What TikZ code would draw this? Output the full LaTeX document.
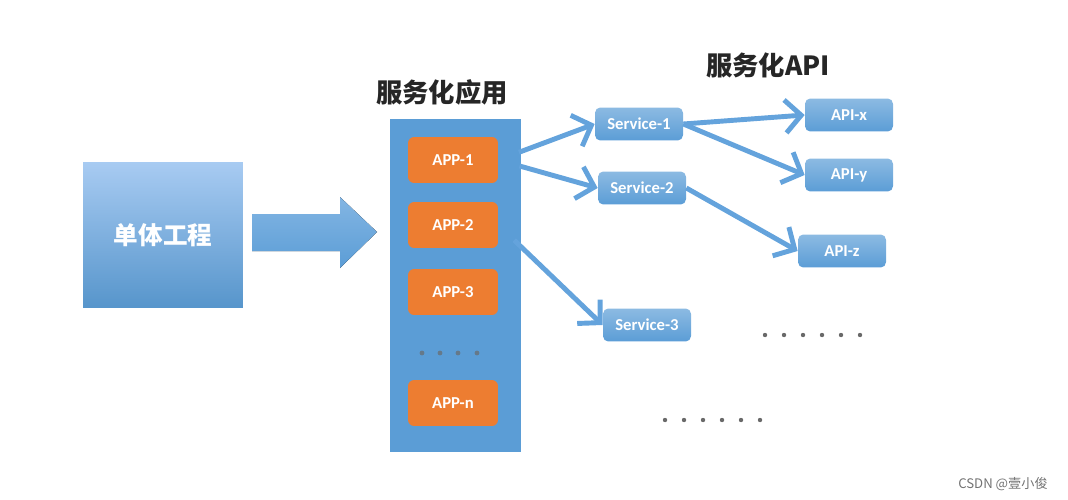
\documentclass[tikz,border=0pt]{standalone}
\usepackage{fontspec}
\setmainfont{Carlito}
\newfontfamily\cjk{Noto Sans CJK SC}
\usetikzlibrary{arrows.meta}
\definecolor{boxblue}{RGB}{91,157,214}
\definecolor{lightblue}{RGB}{168,203,242}
\definecolor{linkblue}{RGB}{100,163,220}
\definecolor{apporange}{RGB}{237,125,49}
\definecolor{dotgray}{RGB}{105,105,105}

\begin{document}
\begin{tikzpicture}[x=0.02cm,y=-0.02cm,
    appbox/.style={fill=apporange,rounded corners=3.5pt,inner sep=0pt,minimum width=1.8cm,minimum height=0.92cm,text=white,font=\bfseries\fontsize{9.5}{11}\selectfont},
    svcbox/.style={top color=boxblue!70!white,bottom color=boxblue,rounded corners=3pt,inner sep=0pt,minimum width=1.76cm,minimum height=0.66cm,text=white,font=\bfseries\fontsize{9.5}{11}\selectfont},
    link/.style={draw=linkblue,line width=2.8pt,-{Straight Barb[length=0.32cm,width=0.66cm]}}]
\useasboundingbox (0,0) rectangle (1068,500);
% monolith and the big arrow
\node[top color=lightblue,bottom color=boxblue!95!black,inner sep=0pt,minimum width=3.2cm,minimum height=2.92cm,text=white,font=\cjk\bfseries\fontsize{14}{16}\selectfont] (mono) at (163,235) {单体工程};
\fill[top color=linkblue!80!white,bottom color=boxblue] (252,214) -- (340,214) -- (340,197) -- (377,232) -- (340,268) -- (340,251) -- (252,251) -- cycle;
% apps
\node[font=\cjk\bfseries\fontsize{15}{17}\selectfont,text=black!85] (apptitle) at (442,92) {服务化应用};
\fill[boxblue] (390,119) rectangle (521,452);
\foreach \name/\y/\txt in {app1/160/APP-1, app2/225/APP-2, app3/292/APP-3, appn/403/APP-n}
    \node[appbox] (\name) at (453,\y) {\txt};
\foreach \x in {422,440,458,477}
    \fill[dotgray!70!boxblue] (\x,353) circle (2.4);
% services and apis
\node[font=\cjk\bfseries\fontsize{15}{17}\selectfont,text=black!85] (apititle) at (768,65) {服务化API};
\node[svcbox] (svc1) at (639,124) {Service-1};
\node[svcbox] (svc2) at (642,188) {Service-2};
\node[svcbox] (svc3) at (647,325) {Service-3};
\node[svcbox] (apix) at (849,115) {API-x};
\node[svcbox] (apiy) at (849,175) {API-y};
\node[svcbox] (apiz) at (842,251) {API-z};
\foreach \x in {765,784,803,822,841,860}
    \fill[dotgray] (\x,335) circle (2.2);
\foreach \x in {665,684,703,722,741,760}
    \fill[dotgray] (\x,420) circle (2.2);
% links
\draw[link,shorten <=0.44cm] (app1.east) -- (svc1.west);
\draw[link,shorten <=0.44cm] (app1.east) -- (svc2.west);
\draw[link,shorten <=0.44cm] (app2.east) -- (svc3.west);
\draw[link] (svc1.east) -- (apix.west);
\draw[link] (svc1.east) -- (apiy.west);
\draw[link] (svc2.east) -- (apiz.west);
\node[text=black!55,font=\cjk\fontsize{7.5}{9}\selectfont] (mark) at (1003,484) {CSDN @壹小俊};
\end{tikzpicture}
\end{document}
